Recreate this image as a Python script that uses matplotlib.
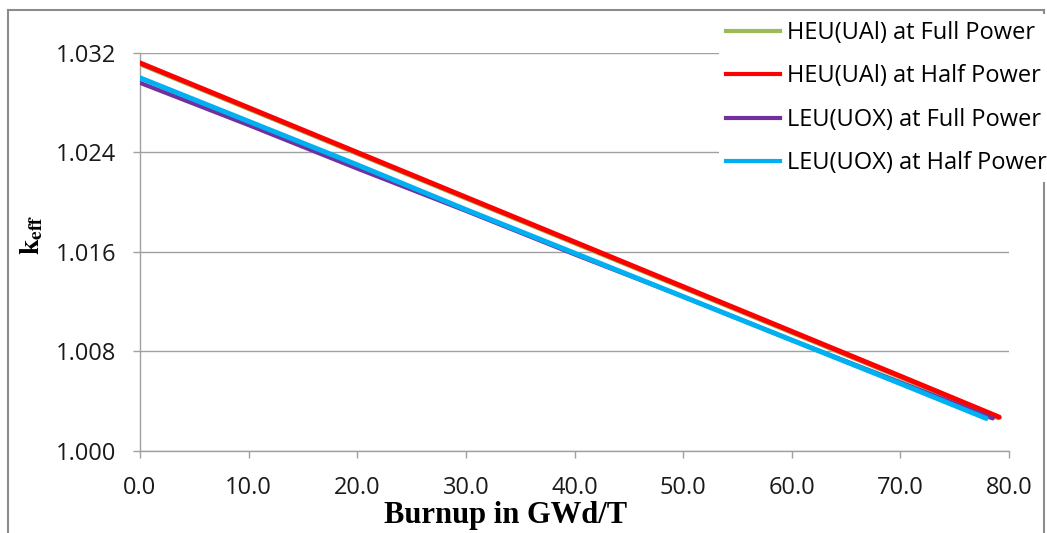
import numpy as np
import matplotlib
matplotlib.use("Agg")
import matplotlib.pyplot as plt
from matplotlib.lines import Line2D

# burnup (GWd/T) and k_eff
heu_full_x = [0, 10, 20, 30, 40, 50, 60, 70, 79.0]
heu_full_k = [1.03105, 1.02745, 1.02385, 1.02025, 1.01665, 1.01305, 1.00945, 1.00585, 1.00258]

heu_half_x = [0, 10, 20, 30, 40, 50, 60, 70, 79.1]
heu_half_k = [1.0312, 1.0276, 1.0240, 1.0204, 1.0168, 1.0132, 1.0096, 1.0060, 1.0027]

leu_full_x = [0, 10, 20, 30, 40, 50, 60, 70, 78.5]
leu_full_k = [1.0296, 1.0262, 1.0227, 1.0193, 1.0158, 1.0124, 1.0089, 1.0055, 1.0026]

leu_half_x = [0, 10, 20, 30, 40, 50, 60, 70, 77.9]
leu_half_k = [1.0300, 1.0265, 1.0230, 1.0194, 1.0159, 1.0124, 1.0089, 1.0054, 1.0026]

labels = ["HEU(UAl) at Full Power", "HEU(UAl) at Half Power",
          "LEU(UOX) at Full Power", "LEU(UOX) at Half Power"]
colors = ["#9BBB59", "#FF0000", "#7030A0", "#00B0F0"]
widths = [2.4, 3.6, 3.0, 3.6]

x_ticks = [0, 10, 20, 30, 40, 50, 60, 70, 80]
y_ticks = [1.000, 1.008, 1.016, 1.024, 1.032]

plt.rcParams["font.family"] = ["Open Sans", "DejaVu Sans"]
W, H = 1047, 533
fig = plt.figure(figsize=(W / 100, H / 100), dpi=100)
ax = fig.add_axes([140 / W, 1 - 450.7 / H, (1009 - 140) / W, (450.7 - 53) / H])

grey = "#a0a0a0"
series = [(heu_full_x, heu_full_k), (heu_half_x, heu_half_k),
          (leu_full_x, leu_full_k), (leu_half_x, leu_half_k)]
for (x, k), c, lw in zip(series, colors, widths):
    ax.plot(x, k, color=c, lw=lw, solid_capstyle="round", zorder=3)

ax.set_xlim(0, 80)
ax.set_ylim(1.000, 1.032)
ax.set_xticks(x_ticks)
ax.set_yticks(y_ticks)
ax.set_xticklabels([f"{v:.1f}" for v in x_ticks])
ax.set_yticklabels([f"{v:.3f}" for v in y_ticks])
ax.tick_params(axis="both", labelsize=17, color=grey, length=5, width=1, labelcolor="#1a1a1a")
ax.tick_params(axis="x", pad=13)
ax.tick_params(axis="y", pad=12)
ax.grid(axis="y", color=grey, lw=1)
ax.set_axisbelow(True)
for s in ["top", "right"]:
    ax.spines[s].set_visible(False)
for s in ["left", "bottom"]:
    ax.spines[s].set_color(grey)
    ax.spines[s].set_linewidth(1)

# outer chart border
fig.add_artist(Line2D([8 / W, 8 / W], [0, 1 - 10 / H], color="#8c8c8c", lw=1.5))
fig.add_artist(Line2D([8 / W, 1044 / W], [1 - 10 / H, 1 - 10 / H], color="#8c8c8c", lw=1.5))
fig.add_artist(Line2D([1044 / W, 1044 / W], [0, 1 - 10 / H], color="#8c8c8c", lw=1.5))

handles = [Line2D([], [], color=c, lw=3) for c in colors]
leg = fig.legend(handles, labels, loc="upper left", bbox_to_anchor=(719 / W, 1 - 14 / H),
                 borderaxespad=0, fontsize=17, frameon=True, fancybox=False,
                 handlelength=2.3, handletextpad=0.3, labelspacing=0.82, borderpad=0.3)
leg.get_frame().set_facecolor("white")
leg.get_frame().set_edgecolor("none")
leg.get_frame().set_alpha(1)

fig.text(506 / W, 1 - 515 / H, "Burnup in GWd/T", family="Liberation Serif",
         weight="bold", fontsize=22, ha="center", va="center")
plt.rcParams["mathtext.fontset"] = "stix"
fig.text(32 / W, 1 - 235 / H, r"$\mathbf{k_{eff}}$", fontsize=20,
         rotation=90, ha="center", va="center")

fig.savefig("out.png", dpi=100)
